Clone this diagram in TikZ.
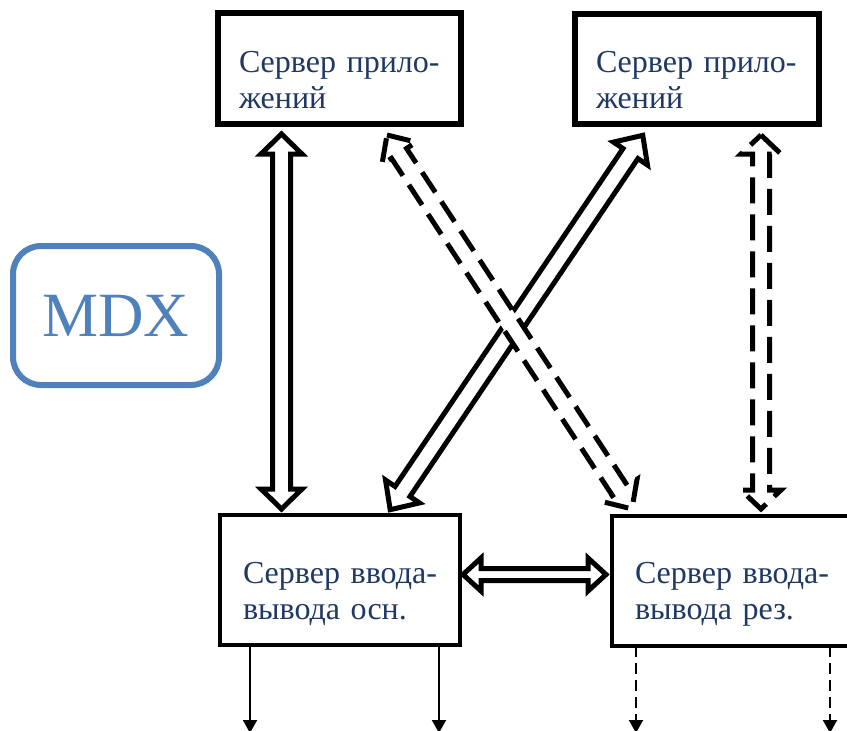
\documentclass[tikz,border=0pt]{standalone}
\usepackage{fontspec}
\setmainfont{Liberation Serif}
\usetikzlibrary{calc,arrows.meta}

\definecolor{txtblue}{RGB}{31,56,100}
\definecolor{mdxblue}{RGB}{79,129,189}

\newcommand\lblfont{\fontsize{32}{36.5}\selectfont}

% Hollow two-headed block arrow between two points.
% #1 extra style, #2 start, #3 end, #4 head length, #5 head half-width, #6 shaft half-width
\newcommand\blockarrow[6][]{%
  \path let \p1=#2, \p2=#3 in \pgfextra{%
    \pgfmathsetmacro\baAng{atan2(\y2-\y1,\x2-\x1)}%
    \pgfmathsetmacro\baLen{veclen(\x2-\x1,\y2-\y1)}%
    \xdef\baAng{\baAng}\xdef\baLen{\baLen}};
  \draw[blockarrow,#1,shift={#2},rotate=\baAng]
    (0pt,0pt) -- (#4pt,#5pt) -- (#4pt,#6pt) -- ({\baLen pt-#4pt},#6pt)
    -- ({\baLen pt-#4pt},#5pt) -- (\baLen pt,0pt) -- ({\baLen pt-#4pt},-#5pt)
    -- ({\baLen pt-#4pt},-#6pt) -- (#4pt,-#6pt) -- (#4pt,-#5pt) -- cycle;
}

\tikzset{
  appbox/.style={draw, line width=6pt, outer sep=0pt, inner sep=0pt},
  iobox/.style={draw, line width=4pt, outer sep=0pt, inner sep=0pt},
  lbl/.style={anchor=base west, inner sep=0pt, outer sep=0pt, text=txtblue,
              font=\lblfont, align=left},
  blockarrow/.style={draw, line width=5pt, line join=miter, fill=white},
  dashedblock/.style={dash pattern=on 24pt off 11pt},
  vdashedblock/.style={dash pattern=on 26pt off 11pt},
  outarrow/.style={line width=2pt, -{Triangle[length=13pt,width=14pt]}},
  outdashed/.style={outarrow, dash pattern=on 11pt off 6pt},
}

\begin{document}
\begin{tikzpicture}[x=1pt,y=-1pt]
  \useasboundingbox (0,0) rectangle (847,731);
  \fill[white] (0,0) rectangle (847,731);

  % server boxes
  \node[appbox, minimum width=243pt, minimum height=111pt] (app1) at (339.5,68.5) {};
  \node[appbox, minimum width=244pt, minimum height=110pt] (app2) at (697,69) {};
  \node[iobox, minimum width=240pt, minimum height=130pt] (io1) at (340,580) {};
  \node[iobox, minimum width=240pt, minimum height=130pt] (io2) at (732,581) {};

  % box labels
  \node[lbl, text width=201pt] (t1) at (239,72) {\makebox[\linewidth][s]{Сервер прило-}\\жений};
  \node[lbl, text width=199pt] (t2) at (596,72) {\makebox[\linewidth][s]{Сервер прило-}\\жений};
  \node[lbl, text width=195pt] (t3) at (243,583) {\makebox[\linewidth][s]{Сервер ввода-}\\вывода осн.};
  \node[lbl, text width=193pt] (t4) at (635,583) {\makebox[\linewidth][s]{Сервер ввода-}\\вывода рез.};

  % MDX badge
  \node[draw=mdxblue, line width=6pt, rounded corners=28pt, outer sep=0pt,
        minimum width=206pt, minimum height=139pt, text=mdxblue,
        font=\fontsize{63}{63}\selectfont] (mdx) at (116,315.5) {MDX};

  % links between servers
  \blockarrow{([xshift=-58pt,yshift=-10pt]app1.south)}{([xshift=-58.5pt,yshift=6pt]io1.north)}{20}{20.5}{9}
  \blockarrow{([xshift=50.2pt,yshift=5.3pt]io1.north)}{([xshift=-54.2pt,yshift=-11.3pt]app2.south)}{22}{20.5}{9}
  \blockarrow[dashedblock]{([xshift=47.5pt,yshift=-11pt]app1.south)}{([xshift=-100pt,yshift=7pt]io2.north)}{22}{20.5}{9}
  \blockarrow[vdashedblock]{([xshift=64pt,yshift=-11pt]app2.south)}{([xshift=29pt,yshift=7pt]io2.north)}{19}{20}{8.5}
  \blockarrow{([xshift=3pt,yshift=5.5pt]io1.east)}{([xshift=-6pt,yshift=6.5pt]io2.west)}{18}{16.5}{6}

  % outputs
  \coordinate (o1) at (250,733);
  \coordinate (o2) at (439,733);
  \coordinate (o3) at (636,733);
  \coordinate (o4) at (830,733);
  \draw[outarrow] (io1.south -| o1) -- (o1);
  \draw[outarrow] (io1.south -| o2) -- (o2);
  \draw[outdashed] (io2.south -| o3) -- (o3);
  \draw[outdashed] (io2.south -| o4) -- (o4);
\end{tikzpicture}
\end{document}
